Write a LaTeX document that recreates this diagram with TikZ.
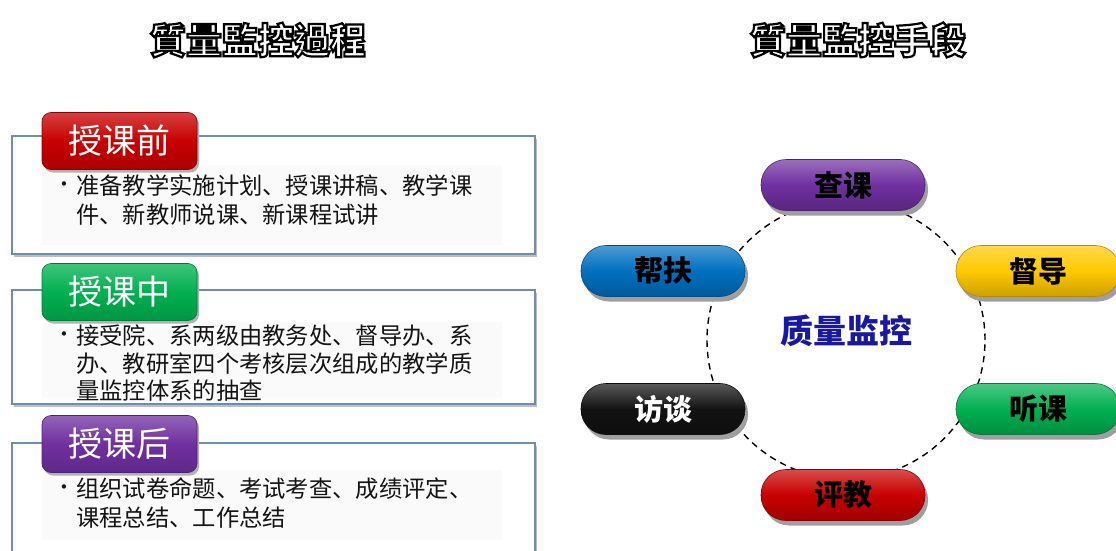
\documentclass[tikz,border=0pt]{standalone}
\usepackage{fontspec}
\newfontfamily\cjk{Noto Sans CJK SC}
\newfontfamily\cjktc{Noto Sans CJK TC}
\newfontfamily\dejavu{DejaVu Sans}
\usetikzlibrary{shadows}
\definecolor{boxline}{RGB}{110,140,185}
\definecolor{cred}{RGB}{200,0,0}
\definecolor{cgreen}{RGB}{0,176,80}
\definecolor{cpurple}{RGB}{112,48,160}
\definecolor{cblue}{RGB}{0,112,192}
\definecolor{cyellow}{RGB}{255,200,0}
\definecolor{cblack}{RGB}{18,18,18}
\definecolor{navy}{RGB}{25,25,160}
\definecolor{bodytext}{RGB}{20,20,20}
\newcommand{\outlinetext}[1]{\special{pdf:literal q 1 Tr 2.2 w}#1\special{pdf:literal Q}}
\tikzset{
  panel/.style={draw=boxline, line width=1.4pt, fill=white,
    drop shadow={shadow xshift=2pt, shadow yshift=-3pt, fill=gray!50, opacity=1}},
  inner/.style={fill=gray!4, draw=none},
  tag/.style={rounded corners=9pt, minimum width=155pt, minimum height=57pt, inner sep=0pt,
    draw=#1!70!black, line width=0.6pt, top color=#1!75!white, bottom color=#1!85!black, middle color=#1,
    drop shadow={shadow xshift=2pt, shadow yshift=-3pt, fill=gray!60, opacity=1},
    text=white, font=\cjk\fontsize{34}{34}\selectfont},
  body/.style={anchor=west, inner sep=0pt, text=bodytext, font=\cjk\fontsize{23.3}{24}\selectfont},
  bullet/.style={anchor=center, inner sep=0pt, text=bodytext, font=\dejavu\fontsize{15}{15}\selectfont},
  pill/.style={rounded corners=25pt, minimum width=164pt, minimum height=51pt, inner sep=0pt,
    draw=#1!70!black, line width=0.6pt, top color=#1!70!white, bottom color=#1!80!black, middle color=#1,
    drop shadow={shadow xshift=3pt, shadow yshift=-5pt, fill=gray!75, opacity=1},
    font=\cjk\bfseries\fontsize{29}{29}\selectfont},
  title/.style={inner sep=0pt, font=\cjktc\bfseries\fontsize{36}{36}\selectfont}
}
\begin{document}
\begin{tikzpicture}[x=1pt,y=-1pt]
\useasboundingbox (0,0) rectangle (1116,551);
\clip (0,0) rectangle (1116,551);
\fill[white] (0,0) rectangle (1116,551);

% titles
\node[title] (t1) at (258,40) {\outlinetext{質量監控過程}};
\node[title] (t2) at (858,40) {\outlinetext{質量監控手段}};

% box 1
\node[panel, minimum width=523pt, minimum height=118pt, inner sep=0pt] (p1) at (273.5,195) {};
\node[inner, minimum width=460pt, minimum height=80pt] (i1) at (272,205) {};
\node[tag=cred] (g1) at (119.5,141) {授课前};
\node[bullet] (b1) at (64,186) {•};
\node[body] (l11) at (76,186) {准备教学实施计划、授课讲稿、教学课};
\node[body] (l12) at (76,215) {件、新教师说课、新课程试讲};

% box 2
\node[panel, minimum width=523pt, minimum height=114pt, inner sep=0pt] (p2) at (273.5,347) {};
\node[inner, minimum width=460pt, minimum height=76pt] (i2) at (272,360) {};
\node[tag=cgreen] (g2) at (119.5,292) {授课中};
\node[bullet] (b2) at (64,336) {•};
\node[body] (l21) at (76,336) {接受院、系两级由教务处、督导办、系};
\node[body] (l22) at (76,364) {办、教研室四个考核层次组成的教学质};
\node[body] (l23) at (76,391) {量监控体系的抽查};

% box 3
\node[panel, minimum width=523pt, minimum height=130pt, inner sep=0pt] (p3) at (273.5,508) {};
\node[inner, minimum width=460pt, minimum height=70pt] (i3) at (272,505) {};
\node[tag=cpurple] (g3) at (119.5,444) {授课后};
\node[bullet] (b3) at (64,489) {•};
\node[body] (l31) at (76,489) {组织试卷命题、考试考查、成绩评定、};
\node[body] (l32) at (76,518) {课程总结、工作总结};

% right side
\coordinate (c) at (846,340);
\node[circle, draw, dashed, dash pattern=on 6.5pt off 5pt, line width=1.4pt, minimum size=278pt, inner sep=0pt] (ring) at (c) {};
\node[text=navy, font=\cjk\bfseries\fontsize{33}{33}\selectfont] (center) at (846,331) {质量监控};

\node[pill=cpurple] (chake) at (843,185) {查课};
\node[pill=cblue] (bangfu) at (663,271) {帮扶};
\node[pill=cyellow] (dudao) at (1038,271) {督导};
\node[pill=cblack, text=white] (fangtan) at (663,409) {访谈};
\node[pill=cgreen] (tingke) at (1038,409) {听课};
\node[pill=cred] (pingjiao) at (843,495) {评教};
\end{tikzpicture}
\end{document}
